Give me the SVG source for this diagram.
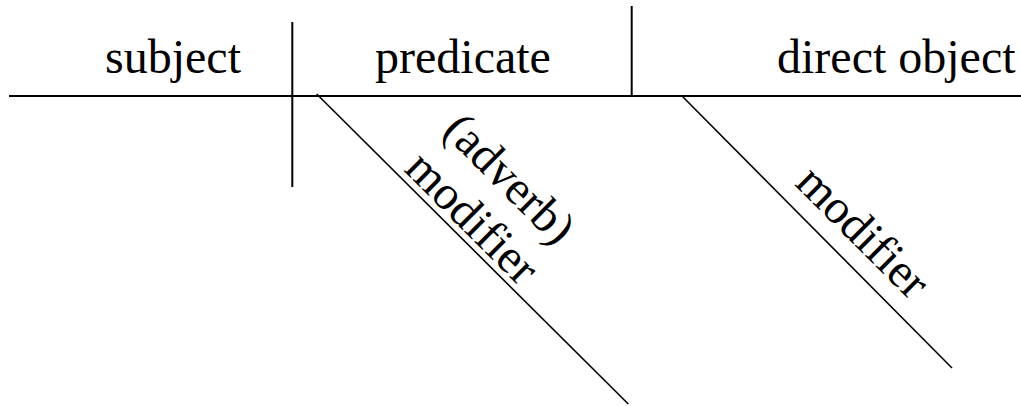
<svg xmlns="http://www.w3.org/2000/svg" width="1021" height="406" viewBox="0 0 1021 406">
<style>
.main{stroke:#000;stroke-width:2;fill:none}
.diag{stroke:#000;stroke-width:1.6;fill:none}
</style>
<rect width="1021" height="406" fill="#fff"/>
<g id="connectors">
<line class="main" x1="9" y1="96" x2="1021" y2="96"/>
<line class="main" x1="292.3" y1="22" x2="292.3" y2="187"/>
<line class="main" x1="631.7" y1="6" x2="631.7" y2="96"/>
<line class="diag" x1="316.7" y1="94" x2="628.3" y2="404"/>
<line class="diag" x1="682" y1="96" x2="952" y2="368"/>
</g>
<g font-family="Liberation Serif" font-size="48" fill="#000">
<g id="subject"><text x="105" y="73">subject</text></g>
<g id="predicate"><text x="375" y="73">predicate</text></g>
<g id="direct-object"><text x="777" y="73">direct object</text></g>
<g id="adverb-modifier" transform="translate(316.7,94) rotate(45)">
<text x="115" y="-61">(adverb)</text>
<text x="115" y="-7">modifier</text>
</g>
<g id="object-modifier" transform="translate(682,96.7) rotate(45)">
<text x="141" y="-17">modifier</text>
</g>
</g>
</svg>
